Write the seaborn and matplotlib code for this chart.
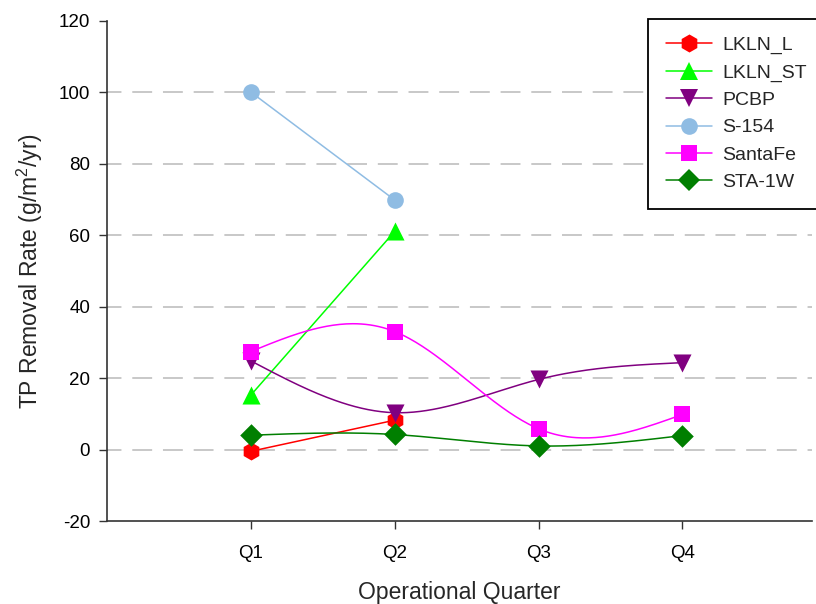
import numpy as np
import pandas as pd
import matplotlib
matplotlib.use("Agg")
import matplotlib.pyplot as plt
from matplotlib.lines import Line2D
import seaborn as sns

# Quarterly TP removal rates (g/m2/yr) per site
quarters = ["Q1", "Q2", "Q3", "Q4"]
sites = ["LKLN_L", "LKLN_ST", "PCBP", "S-154", "SantaFe", "STA-1W"]
lkln_l = [-0.5, 8.2]
lkln_st = [15.2, 61.0]
pcbp = [24.8, 10.3, 19.6, 24.3]
s154 = [100.0, 69.8]
santafe = [27.4, 33.0, 5.8, 9.8]
sta1w = [4.0, 4.2, 1.0, 3.9]

values = [lkln_l, lkln_st, pcbp, s154, santafe, sta1w]
colors = ["#FF0000", "#00FF00", "#800080", "#8FBCE3", "#FF00FF", "#007F00"]
markers = ["h", "^", "v", "o", "s", "D"]
msizes = [13, 13, 13, 12, 11.5, 11.5]


def natural_spline(x, y, n=200):
    """Natural cubic spline through (x, y); straight line for two points."""
    x = np.asarray(x, float)
    y = np.asarray(y, float)
    if len(x) < 3:
        xs = np.linspace(x[0], x[-1], n)
        return xs, np.interp(xs, x, y)
    k = len(x)
    h = np.diff(x)
    A = np.zeros((k, k))
    r = np.zeros(k)
    A[0, 0] = A[-1, -1] = 1.0
    for i in range(1, k - 1):
        A[i, i - 1] = h[i - 1]
        A[i, i] = 2 * (h[i - 1] + h[i])
        A[i, i + 1] = h[i]
        r[i] = 6 * ((y[i + 1] - y[i]) / h[i] - (y[i] - y[i - 1]) / h[i - 1])
    m = np.linalg.solve(A, r)
    xs = np.linspace(x[0], x[-1], n)
    idx = np.clip(np.searchsorted(x, xs) - 1, 0, k - 2)
    x0, x1 = x[idx], x[idx + 1]
    y0, y1 = y[idx], y[idx + 1]
    m0, m1 = m[idx], m[idx + 1]
    hh = x1 - x0
    t0 = x1 - xs
    t1 = xs - x0
    ys = (m0 * t0 ** 3 + m1 * t1 ** 3) / (6 * hh) + \
         (y0 / hh - m0 * hh / 6) * t0 + (y1 / hh - m1 * hh / 6) * t1
    return xs, ys


sns.set_theme(style="ticks")
plt.rcParams["font.family"] = ["Liberation Sans", "DejaVu Sans"]
plt.rcParams["mathtext.fontset"] = "custom"
plt.rcParams["mathtext.rm"] = "Liberation Sans"
plt.rcParams["mathtext.it"] = "Liberation Sans"
plt.rcParams["axes.unicode_minus"] = False

fig = plt.figure(figsize=(8.16, 6.04), dpi=100)
ax = fig.add_axes([0.131, 0.1374, 0.864, 0.8286])

# dashed horizontal grid
for g in [0, 20, 40, 60, 80, 100]:
    ax.axhline(g, color="#C4C4C4", lw=1.3, linestyle=(3, (11, 6)), zorder=0)

handles = []
for name, vals, c, mk, ms in zip(sites, values, colors, markers, msizes):
    xpos = np.arange(1, len(vals) + 1)
    xs, ys = natural_spline(xpos, vals)
    curve = pd.DataFrame({"x": xs, "y": ys})
    sns.lineplot(data=curve, x="x", y="y", color=c, lw=1.1, ax=ax,
                 sort=False, estimator=None, zorder=2)
    pts = pd.DataFrame({"x": xpos, "y": vals})
    sns.scatterplot(data=pts, x="x", y="y", color=c, marker=mk, s=ms ** 2,
                    edgecolor=c, linewidth=0, ax=ax, zorder=3)
    handles.append(Line2D([], [], color=c, lw=1.1, marker=mk, markersize=ms,
                          markeredgecolor=c, markeredgewidth=0, label=name))

ax.set_xlim(0, 4.9)
ax.set_ylim(-20, 120)
ax.set_xticks([1, 2, 3, 4])
ax.set_xticklabels(quarters)
ax.set_yticks(np.arange(-20, 121, 20))
ax.tick_params(axis="both", labelsize=13.5, length=6, width=1, direction="out",
               colors="#333333", labelcolor="black")
ax.tick_params(axis="y", pad=6)
ax.tick_params(axis="x", pad=11)
for side in ["top", "right"]:
    ax.spines[side].set_visible(False)
for side in ["left", "bottom"]:
    ax.spines[side].set_color("#333333")
    ax.spines[side].set_linewidth(1.2)

ax.set_xlabel("Operational Quarter", fontsize=16.5, labelpad=14)
ax.set_ylabel("TP Removal Rate (g/m$^2$/yr)", fontsize=16.5, labelpad=10)

leg = fig.legend(handles=handles, loc="upper left",
                 bbox_to_anchor=(648 / 816, 1 - 19 / 604),
                 fontsize=14, frameon=True, fancybox=False, shadow=False,
                 borderpad=0.9, labelspacing=0.5, handlelength=2.4,
                 handletextpad=0.5, borderaxespad=0)
leg.get_frame().set_edgecolor("black")
leg.get_frame().set_linewidth(1.3)
leg.get_frame().set_facecolor("white")
leg.get_frame().set_alpha(1)

fig.savefig("out.png", dpi=100)
